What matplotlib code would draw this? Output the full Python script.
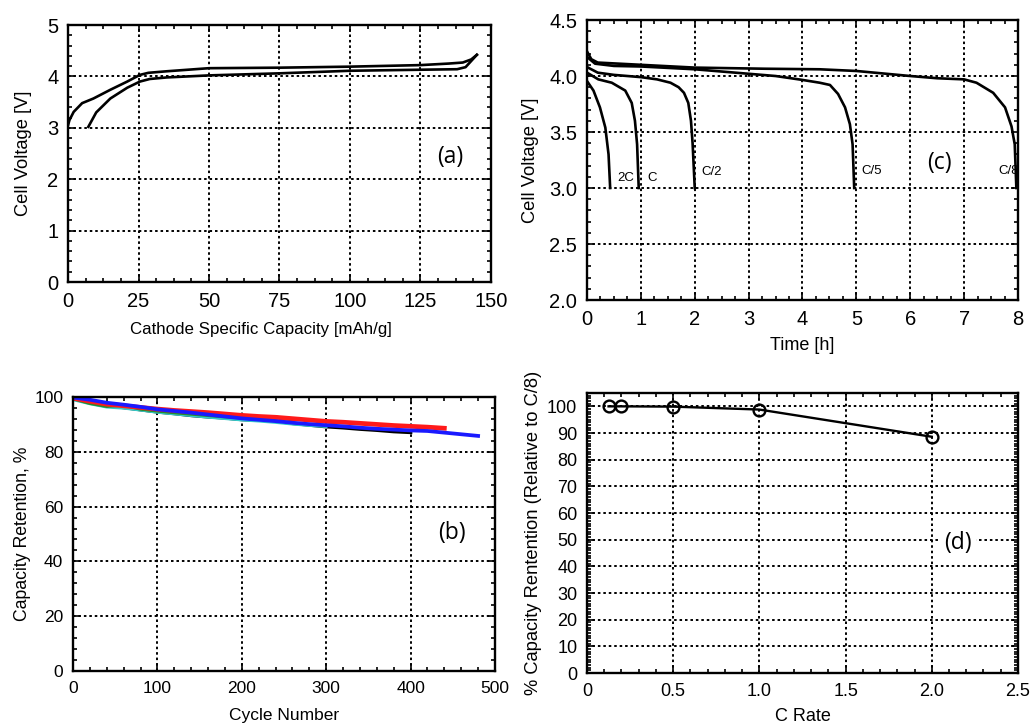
import matplotlib
matplotlib.use("Agg")
import matplotlib.pyplot as plt
from matplotlib.ticker import MultipleLocator, FormatStrFormatter, FuncFormatter

plt.rcParams['font.family'] = ['Liberation Sans', 'DejaVu Sans']

# ---------------- data ----------------
# (a) charge / discharge profile
cap_charge = [0, 0.5, 2, 5, 9, 15, 21, 25.5, 28.5, 35, 50, 75, 100, 125, 135, 140, 143, 145]
v_charge = [3.05, 3.15, 3.31, 3.48, 3.57, 3.74, 3.90, 4.03, 4.07, 4.10, 4.16, 4.17, 4.19, 4.22, 4.25, 4.27, 4.33, 4.42]
cap_discharge = [145, 143, 141, 138, 125, 100, 75, 50, 35, 29, 25.5, 21, 15, 10, 7.2]
v_discharge = [4.42, 4.30, 4.18, 4.14, 4.13, 4.11, 4.06, 4.02, 3.98, 3.95, 3.90, 3.78, 3.57, 3.30, 3.02]

# (b) cycling
cyc_blue = list(range(0, 481, 20))
ret_blue = [99.8, 99.0, 97.9, 97.2, 96.4, 95.5, 94.9, 94.3, 93.6, 92.9, 92.2, 91.7, 91.2,
            90.6, 90.1, 89.7, 89.3, 88.8, 88.4, 88.1, 87.8, 87.6, 87.0, 86.4, 85.8]
cyc_red = list(range(0, 441, 20))
ret_red = [99.6, 98.5, 97.4, 96.8, 96.2, 95.6, 95.1, 94.7, 94.3, 93.8, 93.3, 92.9, 92.6,
           92.1, 91.6, 91.1, 90.8, 90.4, 90.0, 89.6, 89.3, 89.0, 88.6]
cyc_black = list(range(0, 401, 20))
ret_black = [99.4, 98.0, 96.8, 96.2, 95.4, 94.6, 94.0, 93.3, 92.8, 92.4, 91.8, 91.6, 91.2,
             90.4, 89.8, 89.2, 88.8, 88.3, 87.9, 87.4, 87.1]
cyc_green = list(range(0, 261, 20))
ret_green = [99.3, 97.6, 96.5, 97.0, 95.5, 94.8, 94.2, 93.7, 93.2, 92.7, 92.3, 92.6, 92.8, 91.5]
cyc_cyan = list(range(0, 301, 20))
ret_cyan = [99.0, 97.5, 96.3, 95.9, 95.2, 94.4, 93.8, 93.2, 92.6, 92.1, 91.6, 91.2, 90.7, 90.1, 89.6, 89.2]

# (c) rate discharge curves
t_c8 = [0, 0.08, 0.2, 1, 2, 3.3, 4.32, 5, 6, 6.5, 7, 7.23, 7.54, 7.76, 7.88, 7.94, 7.97]
v_c8 = [4.22, 4.15, 4.12, 4.10, 4.075, 4.065, 4.06, 4.045, 4.0, 3.98, 3.97, 3.94, 3.85, 3.72, 3.55, 3.39, 3.0]
t_c5 = [0, 0.15, 0.5, 1, 2, 2.5, 3, 3.5, 4, 4.32, 4.51, 4.66, 4.79, 4.88, 4.93, 4.96]
v_c5 = [4.17, 4.11, 4.09, 4.085, 4.06, 4.04, 4.02, 4.0, 3.965, 3.94, 3.92, 3.84, 3.72, 3.57, 3.39, 3.0]
t_c2 = [0, 0.2, 0.5, 1.0, 1.3, 1.55, 1.7, 1.8, 1.88, 1.93, 1.96, 1.98, 2.0]
v_c2 = [4.08, 4.03, 4.01, 3.99, 3.97, 3.94, 3.90, 3.85, 3.76, 3.60, 3.40, 3.20, 3.0]
t_c1 = [0, 0.21, 0.46, 0.71, 0.83, 0.89, 0.93, 0.96]
v_c1 = [4.03, 3.97, 3.94, 3.87, 3.76, 3.60, 3.39, 3.0]
t_2c = [0, 0.12, 0.24, 0.34, 0.40, 0.43]
v_2c = [3.955, 3.87, 3.72, 3.54, 3.30, 3.0]
rate_labels = ['2C', 'C', 'C/2', 'C/5', 'C/8']

# (d) rate capability
c_rate = [0.125, 0.2, 0.5, 1.0, 2.0]
retention = [100, 100, 99.9, 98.8, 88.6]

# ---------------- figure ----------------
fig = plt.figure(figsize=(10.34, 7.25), dpi=100)
ax_a = fig.add_axes([0.0658, 0.611, 0.409, 0.3545])
ax_c = fig.add_axes([0.5677, 0.5862, 0.4168, 0.3862])
ax_b = fig.add_axes([0.0706, 0.0745, 0.4081, 0.3779])
ax_d = fig.add_axes([0.5677, 0.0717, 0.4168, 0.3862])

GRID = dict(color='black', linestyle=(0, (1.3, 1.5)), linewidth=1.4)


def style(ax, xmaj, xmin, ymaj, ymin, fs):
    ax.xaxis.set_major_locator(MultipleLocator(xmaj))
    ax.xaxis.set_minor_locator(MultipleLocator(xmin))
    ax.yaxis.set_major_locator(MultipleLocator(ymaj))
    ax.yaxis.set_minor_locator(MultipleLocator(ymin))
    ax.tick_params(which='both', direction='in', top=True, right=True, width=1.2)
    ax.tick_params(which='major', length=5, labelsize=fs, pad=7)
    ax.tick_params(which='minor', length=3)
    ax.grid(True, which='major', **GRID)
    ax.set_axisbelow(True)
    for s in ax.spines.values():
        s.set_linewidth(1.7)
        s.set_color('black')


# (a)
ax_a.plot(cap_charge, v_charge, color='black', lw=1.9)
ax_a.plot(cap_discharge, v_discharge, color='black', lw=1.9)
ax_a.set_xlim(0, 150)
ax_a.set_ylim(0, 5)
style(ax_a, 25, 6.25, 1, 0.2, 14.5)
ax_a.set_xlabel('Cathode Specific Capacity [mAh/g]', fontsize=12.2)
ax_a.set_ylabel('Cell Voltage [V]', fontsize=13.2)
ax_a.xaxis.set_label_coords(0.456, -0.156)
ax_a.yaxis.set_label_coords(-0.085, 0.5)
ax_a.text(135.5, 2.43, '(a)', fontsize=16.5, family='Open Sans', ha='center', va='center')

# (c)
for tt, vv in [(t_c8, v_c8), (t_c5, v_c5), (t_c2, v_c2), (t_c1, v_c1), (t_2c, v_2c)]:
    ax_c.plot(tt, vv, color='black', lw=1.9, zorder=3)
ax_c.set_xlim(0, 8)
ax_c.set_ylim(2.0, 4.5)
style(ax_c, 1, 0.25, 0.5, 0.1, 14.5)
ax_c.yaxis.set_major_formatter(FormatStrFormatter('%.1f'))
ax_c.set_xlabel('Time [h]', fontsize=13)
ax_c.set_ylabel('Cell Voltage [V]', fontsize=13.2)
ax_c.xaxis.set_label_coords(0.5, -0.132)
ax_c.yaxis.set_label_coords(-0.112, 0.5)
lab_pos = [(0.72, 3.09), (1.2, 3.09), (2.31, 3.14), (5.28, 3.15), (7.83, 3.15)]
for lab, (x, y) in zip(rate_labels, lab_pos):
    ax_c.text(x, y, lab, fontsize=9.5, ha='center', va='center', zorder=2,
              bbox=dict(facecolor='white', edgecolor='none', pad=1))
ax_c.text(6.55, 3.22, '(c)', fontsize=16.5, family='Open Sans', ha='center', va='center',
          bbox=dict(facecolor='white', edgecolor='none', pad=8))

# (b)
ax_b.plot(cyc_black, ret_black, color='black', lw=2.6)
ax_b.plot(cyc_cyan, ret_cyan, color='#33cccc', lw=2.0)
ax_b.plot(cyc_green, ret_green, color='#2a8a2a', lw=2.0)
ax_b.plot(cyc_red, ret_red, color='#ff1a1a', lw=3.4)
ax_b.plot(cyc_blue, ret_blue, color='#1a1aff', lw=2.7)
ax_b.set_xlim(0, 500)
ax_b.set_ylim(0, 100)
style(ax_b, 100, 20, 20, 4, 12.5)
ax_b.set_xlabel('Cycle Number', fontsize=12.5)
ax_b.set_ylabel('Capacity Retention, %', fontsize=12.7)
ax_b.xaxis.set_label_coords(0.5, -0.135)
ax_b.yaxis.set_label_coords(-0.1, 0.5)
ax_b.text(449, 50.4, '(b)', fontsize=16.5, family='Open Sans', ha='center', va='center')

# (d)
ax_d.plot(c_rate, retention, color='black', lw=1.7, marker='o', ms=8.5,
          mfc='none', mec='black', mew=1.7)
ax_d.set_xlim(0, 2.5)
ax_d.set_ylim(0, 105)
style(ax_d, 0.5, 0.1, 10, 1, 13)
ax_d.xaxis.set_major_formatter(FuncFormatter(lambda v, p: '0' if v == 0 else f'{v:.1f}'))
ax_d.set_xlabel('C Rate', fontsize=13)
ax_d.set_ylabel('% Capacity Rentention (Relative to C/8)', fontsize=13.2)
ax_d.xaxis.set_label_coords(0.5, -0.125)
ax_d.yaxis.set_label_coords(-0.105, 0.5)
ax_d.text(2.15, 48.75, '(d)', fontsize=16.5, family='Open Sans', ha='center', va='center',
          bbox=dict(facecolor='white', edgecolor='none', pad=3))

fig.savefig('out.png', dpi=100)
